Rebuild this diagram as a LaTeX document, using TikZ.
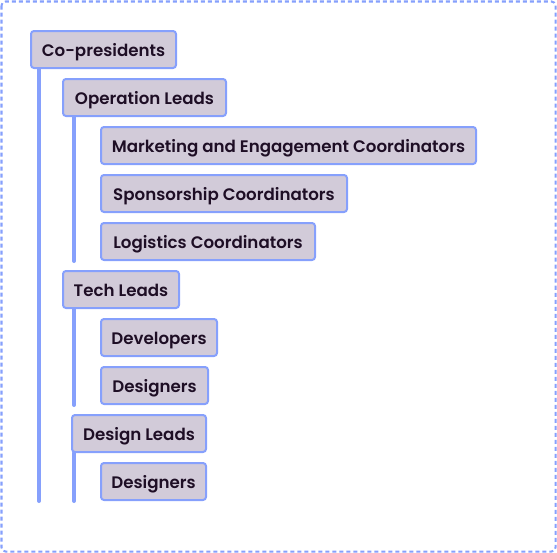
\documentclass[tikz,border=0pt]{standalone}
\usepackage{fontspec}
\setmainfont{Poppins}[UprightFont=* SemiBold]
\usetikzlibrary{calc,backgrounds}
\definecolor{boxfill}{HTML}{D2CBD9}
\definecolor{edgeblue}{HTML}{86A0FC}
\definecolor{ink}{HTML}{1E0E25}
\def\px{0.75pt}
\tikzset{
  unit/.style={draw=edgeblue, fill=boxfill, line width=2*\px, rounded corners=3*\px,
    minimum height=37*\px, inner sep=0pt, text height=12pt, text depth=1.5pt,
    text=ink, font=\fontsize{12.5}{14}\selectfont},
  stem/.style={draw=edgeblue, line width=4*\px, line cap=round},
  frame/.style={draw=edgeblue, line width=2*\px, dash pattern=on 4*\px off 3*\px, rounded corners=4*\px}
}
\begin{document}
\begin{tikzpicture}[x=0.75pt, y=-0.75pt]
  \useasboundingbox (0,0) rectangle (557,553);
  \draw[frame] (1.5,1.5) rectangle (555.5,551.5);

  \node[unit, minimum width=145*\px] (cp)  at (103.5,49.5)  {Co-presidents};
  \node[unit, minimum width=163*\px] (ol)  at (144.5,97.5)  {Operation Leads};
  \node[unit, minimum width=375*\px] (mk)  at (288.5,145.5) {Marketing and Engagement Coordinators};
  \node[unit, minimum width=246*\px] (sp)  at (224,193.5)   {Sponsorship Coordinators};
  \node[unit, minimum width=214*\px] (lg)  at (208,241.5)   {Logistics Coordinators};
  \node[unit, minimum width=116*\px] (tl)  at (121,289.5)   {Tech Leads};
  \node[unit, minimum width=116*\px] (dv)  at (159,337.5)   {Developers};
  \node[unit, minimum width=107*\px] (dg1) at (154.5,385.5) {Designers};
  \node[unit, minimum width=134*\px] (dl)  at (139,433.5)   {Design Leads};
  \node[unit, minimum width=105*\px] (dg2) at (153.5,481.5) {Designers};

  % tops of the vertical stems under each parent box
  \coordinate (cpstem) at ($(cp.south west)+(9,0)$);
  \coordinate (olstem) at ($(ol.south west)+(12,0)$);
  \coordinate (tlstem) at ($(tl.south west)+(12,0)$);
  \coordinate (dlstem) at ($(dl.south west)+(3,0)$);

  \begin{scope}[on background layer]
    \draw[stem] (cpstem) -- (cpstem |- dg2.south);
    \draw[stem] (olstem) -- (olstem |- lg.south);
    \draw[stem] (tlstem) -- (tlstem |- dg1.south);
    \draw[stem] (dlstem) -- (dlstem |- dg2.south);
  \end{scope}
\end{tikzpicture}
\end{document}
